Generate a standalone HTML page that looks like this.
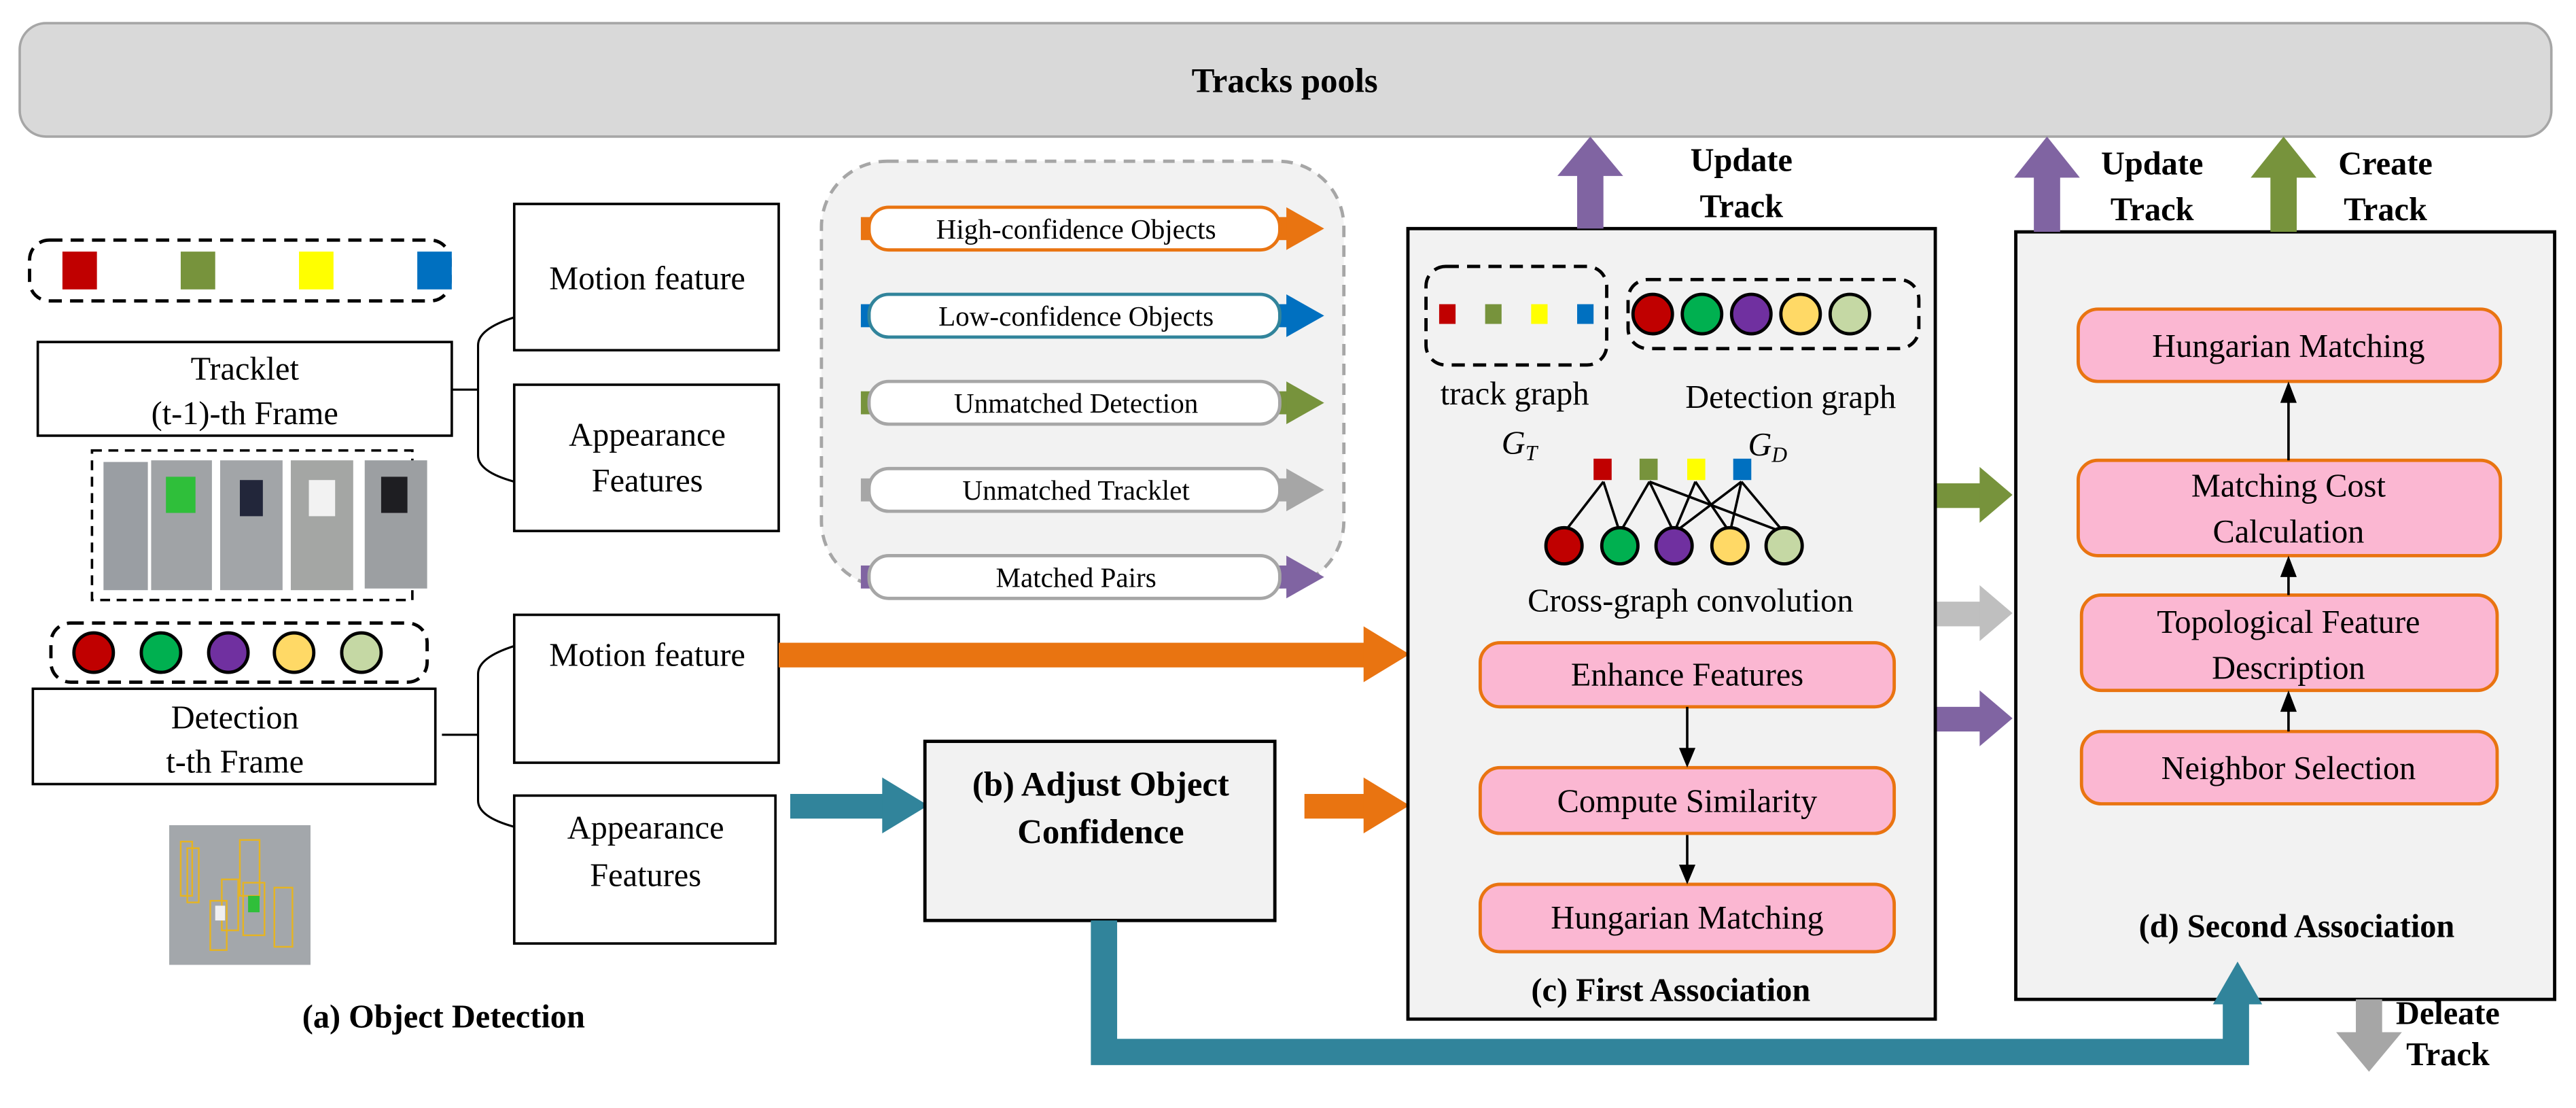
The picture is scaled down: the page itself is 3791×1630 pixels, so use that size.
<!DOCTYPE html>
<html><head><meta charset="utf-8"><style>
html,body{margin:0;padding:0;background:#fff;}
svg{display:block;}
svg text{font-family:"Liberation Serif","DejaVu Serif","Times New Roman",serif;fill:#000;}
.b{font-weight:bold;}
</style></head><body>
<svg width="3791" height="1630" viewBox="0 0 1568 674" xmlns="http://www.w3.org/2000/svg" font-family="Liberation Serif, DejaVu Serif, serif">
<!-- Tracks pools -->
<rect x="12" y="14" width="1541" height="69" rx="16" fill="#d9d9d9" stroke="#a6a6a6" stroke-width="1.5"/>
<text x="782" y="56" font-size="21" class="b" text-anchor="middle">Tracks pools</text>

<!-- left: tracklet squares -->
<rect x="18" y="146" width="256" height="37" rx="12" fill="none" stroke="#000" stroke-width="2" stroke-dasharray="8,5"/>
<rect x="38" y="153" width="21" height="23" fill="#c00000"/>
<rect x="110" y="153" width="21" height="23" fill="#77933c"/>
<rect x="182" y="153" width="21" height="23" fill="#ffff00"/>
<rect x="254" y="153" width="21" height="23" fill="#0070c0"/>
<rect x="23" y="208" width="252" height="57" fill="#fff" stroke="#000" stroke-width="1.5"/>
<text x="149" y="231" font-size="20" text-anchor="middle">Tracklet</text>
<text x="149" y="258" font-size="20" text-anchor="middle">(t-1)-th Frame</text>
<!-- people image -->
<rect x="56" y="274" width="195" height="91" fill="none" stroke="#000" stroke-width="1.5" stroke-dasharray="6,4"/>
<rect x="63" y="281" width="27" height="78" fill="#9a9ea3"/>
<rect x="92" y="280" width="37" height="79" fill="#a0a3a6"/>
<rect x="101" y="290" width="18" height="22" fill="#2fbf3a"/>
<rect x="134" y="280" width="38" height="79" fill="#a2a5a8"/>
<rect x="146" y="292" width="14" height="22" fill="#22263a"/>
<rect x="177" y="280" width="38" height="79" fill="#a4a6a4"/>
<rect x="188" y="292" width="16" height="22" fill="#f2f2f2"/>
<rect x="222" y="280" width="38" height="78" fill="#9c9fa2"/>
<rect x="232" y="290" width="16" height="22" fill="#1e1e22"/>
<!-- circles -->
<rect x="31" y="379" width="229" height="36" rx="12" fill="none" stroke="#000" stroke-width="2" stroke-dasharray="8,5"/>
<g stroke="#000" stroke-width="2">
<circle cx="57" cy="397" r="12" fill="#c00000"/>
<circle cx="98" cy="397" r="12" fill="#00b050"/>
<circle cx="139" cy="397" r="12" fill="#7030a0"/>
<circle cx="179" cy="397" r="12" fill="#ffd966"/>
<circle cx="220" cy="397" r="12" fill="#c5d8a4"/>
</g>
<rect x="20" y="419" width="245" height="58" fill="#fff" stroke="#000" stroke-width="1.5"/>
<text x="143" y="443" font-size="20" text-anchor="middle">Detection</text>
<text x="143" y="470" font-size="20" text-anchor="middle">t-th Frame</text>
<!-- detection image -->
<rect x="103" y="502" width="86" height="85" fill="#a3a7ab"/>
<g fill="none" stroke="#e6b422" stroke-width="1">
<rect x="110" y="512" width="7" height="33"/><rect x="114" y="516" width="7" height="33"/>
<rect x="146" y="511" width="12" height="34"/><rect x="128" y="548" width="10" height="30"/>
<rect x="135" y="535" width="10" height="31"/><rect x="148" y="537" width="13" height="32"/>
<rect x="167" y="540" width="11" height="36"/>
</g>
<rect x="151" y="545" width="7" height="10" fill="#2fbf3a"/>
<rect x="131" y="551" width="6" height="9" fill="#f0f0f0"/>
<text x="270" y="625" font-size="20" class="b" text-anchor="middle">(a) Object Detection</text>

<!-- feature boxes & brackets -->
<g fill="#fff" stroke="#000" stroke-width="1.5">
<rect x="313" y="124" width="161" height="89"/>
<rect x="313" y="234" width="161" height="89"/>
<rect x="313" y="374" width="161" height="90"/>
<rect x="313" y="484" width="159" height="90"/>
</g>
<text x="394" y="176" font-size="20" text-anchor="middle">Motion feature</text>
<text x="394" y="271" font-size="20" text-anchor="middle">Appearance</text>
<text x="394" y="299" font-size="20" text-anchor="middle">Features</text>
<text x="394" y="405" font-size="20" text-anchor="middle">Motion feature</text>
<text x="393" y="510" font-size="20" text-anchor="middle">Appearance</text>
<text x="393" y="539" font-size="20" text-anchor="middle">Features</text>
<g fill="none" stroke="#000" stroke-width="1.3">
<path d="M275 237 H291 M313 193 Q291 200 291 210 V277 Q291 287 313 293"/>
<path d="M269 447 H291 M313 393 Q291 400 291 410 V487 Q291 497 313 503"/>
</g>

<!-- legend -->
<rect x="500" y="98" width="318" height="259" rx="40" fill="#f2f2f2" stroke="#a6a6a6" stroke-width="2" stroke-dasharray="7,5"/>
<g>
<rect x="524" y="132" width="260" height="14" fill="#e97411"/><polygon points="783,126 806,139 783,152" fill="#e97411"/>
<rect x="529" y="126" width="250" height="26" rx="12" fill="#fff" stroke="#e97411" stroke-width="2"/>
<text x="655" y="145" font-size="17" text-anchor="middle">High-confidence Objects</text>
<rect x="524" y="185" width="260" height="14" fill="#0070c0"/><polygon points="783,179 806,192 783,205" fill="#0070c0"/>
<rect x="529" y="179" width="250" height="26" rx="12" fill="#fff" stroke="#31849b" stroke-width="2"/>
<text x="655" y="198" font-size="17" text-anchor="middle">Low-confidence Objects</text>
<rect x="524" y="238" width="260" height="14" fill="#77933c"/><polygon points="783,232 806,245 783,258" fill="#77933c"/>
<rect x="529" y="232" width="250" height="26" rx="12" fill="#fff" stroke="#a6a6a6" stroke-width="2"/>
<text x="655" y="251" font-size="17" text-anchor="middle">Unmatched Detection</text>
<rect x="524" y="291" width="260" height="14" fill="#a6a6a6"/><polygon points="783,285 806,298 783,311" fill="#a6a6a6"/>
<rect x="529" y="285" width="250" height="26" rx="12" fill="#fff" stroke="#a6a6a6" stroke-width="2"/>
<text x="655" y="304" font-size="17" text-anchor="middle">Unmatched Tracklet</text>
<rect x="524" y="344" width="260" height="14" fill="#8064a2"/><polygon points="783,338 806,351 783,364" fill="#8064a2"/>
<rect x="529" y="338" width="250" height="26" rx="12" fill="#fff" stroke="#a6a6a6" stroke-width="2"/>
<text x="655" y="357" font-size="17" text-anchor="middle">Matched Pairs</text>
</g>

<!-- flow arrows -->
<rect x="474" y="391" width="358" height="15" fill="#e97411"/><polygon points="830,381 858,398 830,415" fill="#e97411"/>
<rect x="481" y="483" width="58" height="15" fill="#31849b"/><polygon points="537,473 565,490 537,507" fill="#31849b"/>
<rect x="794" y="483" width="38" height="15" fill="#e97411"/><polygon points="830,473 858,490 830,507" fill="#e97411"/>

<!-- (b) -->
<rect x="563" y="451" width="213" height="109" fill="#f2f2f2" stroke="#000" stroke-width="2"/>
<text x="670" y="484" font-size="21" class="b" text-anchor="middle">(b) Adjust Object</text>
<text x="670" y="513" font-size="21" class="b" text-anchor="middle">Confidence</text>

<!-- (c) First association -->
<rect x="857" y="139" width="321" height="481" fill="#f2f2f2" stroke="#000" stroke-width="2"/>
<rect x="960" y="104" width="16" height="35" fill="#8064a2"/><polygon points="948,107 968,83 988,107" fill="#8064a2"/>
<text x="1060" y="104" font-size="20" class="b" text-anchor="middle">Update</text>
<text x="1060" y="132" font-size="20" class="b" text-anchor="middle">Track</text>
<rect x="868" y="162" width="110" height="60" rx="12" fill="none" stroke="#000" stroke-width="2" stroke-dasharray="8,5"/>
<rect x="876" y="185" width="10" height="12" fill="#c00000"/>
<rect x="904" y="185" width="10" height="12" fill="#77933c"/>
<rect x="932" y="185" width="10" height="12" fill="#ffff00"/>
<rect x="960" y="185" width="10" height="12" fill="#0070c0"/>
<rect x="991" y="170" width="177" height="42" rx="12" fill="none" stroke="#000" stroke-width="2" stroke-dasharray="8,5"/>
<g stroke="#000" stroke-width="2">
<circle cx="1006" cy="191" r="12" fill="#c00000"/>
<circle cx="1036" cy="191" r="12" fill="#00b050"/>
<circle cx="1066" cy="191" r="12" fill="#7030a0"/>
<circle cx="1096" cy="191" r="12" fill="#ffd966"/>
<circle cx="1126" cy="191" r="12" fill="#c5d8a4"/>
</g>
<text x="922" y="246" font-size="20" text-anchor="middle">track graph</text>
<text x="1090" y="248" font-size="20" text-anchor="middle">Detection graph</text>
<text x="914" y="276" font-size="20" font-style="italic">G<tspan font-size="13" dy="4">T</tspan></text>
<text x="1064" y="277" font-size="20" font-style="italic">G<tspan font-size="13" dy="4">D</tspan></text>
<g stroke="#000" stroke-width="1.5">
<line x1="976" y1="293" x2="952" y2="324"/><line x1="976" y1="293" x2="986" y2="324"/>
<line x1="1004" y1="293" x2="986" y2="324"/><line x1="1004" y1="293" x2="1019" y2="324"/><line x1="1004" y1="293" x2="1086" y2="324"/>
<line x1="1032" y1="293" x2="1019" y2="324"/><line x1="1032" y1="293" x2="1053" y2="324"/>
<line x1="1060" y1="293" x2="1019" y2="324"/><line x1="1060" y1="293" x2="1053" y2="324"/><line x1="1060" y1="293" x2="1086" y2="324"/>
</g>
<rect x="970" y="279" width="11" height="13" fill="#c00000"/>
<rect x="998" y="279" width="11" height="13" fill="#77933c"/>
<rect x="1027" y="279" width="11" height="13" fill="#ffff00"/>
<rect x="1055" y="279" width="11" height="13" fill="#0070c0"/>
<g stroke="#000" stroke-width="2">
<circle cx="952" cy="332" r="11" fill="#c00000"/>
<circle cx="986" cy="332" r="11" fill="#00b050"/>
<circle cx="1019" cy="332" r="11" fill="#7030a0"/>
<circle cx="1053" cy="332" r="11" fill="#ffd966"/>
<circle cx="1086" cy="332" r="11" fill="#c5d8a4"/>
</g>
<text x="1029" y="372" font-size="20" text-anchor="middle">Cross-graph convolution</text>
<g fill="#fbb7d2" stroke="#e97411" stroke-width="2">
<rect x="901" y="391" width="252" height="39" rx="12"/>
<rect x="901" y="467" width="252" height="40" rx="12"/>
<rect x="901" y="538" width="252" height="41" rx="12"/>
</g>
<text x="1027" y="417" font-size="20" text-anchor="middle">Enhance Features</text>
<text x="1027" y="494" font-size="20" text-anchor="middle">Compute Similarity</text>
<text x="1027" y="565" font-size="20" text-anchor="middle">Hungarian Matching</text>
<g stroke="#000" stroke-width="1.5"><line x1="1027" y1="430" x2="1027" y2="458"/><line x1="1027" y1="508" x2="1027" y2="529"/></g>
<polygon points="1022,455 1027,467 1032,455" fill="#000"/>
<polygon points="1022,526 1027,538 1032,526" fill="#000"/>
<text x="1017" y="609" font-size="20" class="b" text-anchor="middle">(c) First Association</text>

<!-- arrows between c and d -->
<rect x="1179" y="294" width="28" height="15" fill="#77933c"/><polygon points="1205,284 1225,301 1205,318" fill="#77933c"/>
<rect x="1179" y="366" width="28" height="15" fill="#bfbfbf"/><polygon points="1205,356 1225,373 1205,390" fill="#bfbfbf"/>
<rect x="1179" y="430" width="28" height="15" fill="#8064a2"/><polygon points="1205,420 1225,437 1205,454" fill="#8064a2"/>

<!-- (d) Second association -->
<rect x="1227" y="141" width="328" height="467" fill="#f2f2f2" stroke="#000" stroke-width="2"/>
<rect x="1238" y="106" width="16" height="35" fill="#8064a2"/><polygon points="1226,108 1246,83 1266,108" fill="#8064a2"/>
<text x="1310" y="106" font-size="20" class="b" text-anchor="middle">Update</text>
<text x="1310" y="134" font-size="20" class="b" text-anchor="middle">Track</text>
<rect x="1382" y="106" width="16" height="35" fill="#77933c"/><polygon points="1370,108 1390,83 1410,108" fill="#77933c"/>
<text x="1452" y="106" font-size="20" class="b" text-anchor="middle">Create</text>
<text x="1452" y="134" font-size="20" class="b" text-anchor="middle">Track</text>
<g fill="#fbb7d2" stroke="#e97411" stroke-width="2">
<rect x="1265" y="188" width="257" height="44" rx="12"/>
<rect x="1265" y="280" width="257" height="58" rx="12"/>
<rect x="1267" y="362" width="253" height="58" rx="12"/>
<rect x="1267" y="445" width="253" height="44" rx="12"/>
</g>
<text x="1393" y="217" font-size="20" text-anchor="middle">Hungarian Matching</text>
<text x="1393" y="302" font-size="20" text-anchor="middle">Matching Cost</text>
<text x="1393" y="330" font-size="20" text-anchor="middle">Calculation</text>
<text x="1393" y="385" font-size="20" text-anchor="middle">Topological Feature</text>
<text x="1393" y="413" font-size="20" text-anchor="middle">Description</text>
<text x="1393" y="474" font-size="20" text-anchor="middle">Neighbor Selection</text>
<g stroke="#000" stroke-width="1.5">
<line x1="1393" y1="244" x2="1393" y2="280"/><line x1="1393" y1="350" x2="1393" y2="362"/><line x1="1393" y1="432" x2="1393" y2="445"/>
</g>
<polygon points="1388,245 1393,232 1398,245" fill="#000"/>
<polygon points="1388,351 1393,338 1398,351" fill="#000"/>
<polygon points="1388,433 1393,420 1398,433" fill="#000"/>
<text x="1398" y="570" font-size="20" class="b" text-anchor="middle">(d) Second Association</text>
<rect x="1434" y="608" width="16" height="22" fill="#a6a6a6"/><polygon points="1422,628 1442,652 1462,628" fill="#a6a6a6"/>
<text x="1490" y="623" font-size="20" class="b" text-anchor="middle">Deleate</text>
<text x="1490" y="648" font-size="20" class="b" text-anchor="middle">Track</text>

<!-- teal path (drawn last) -->
<path d="M672 560 V640 H1361 V608" fill="none" stroke="#31849b" stroke-width="16"/>
<polygon points="1347,611 1362,585 1377,611" fill="#31849b"/>
</svg>
</body></html>
